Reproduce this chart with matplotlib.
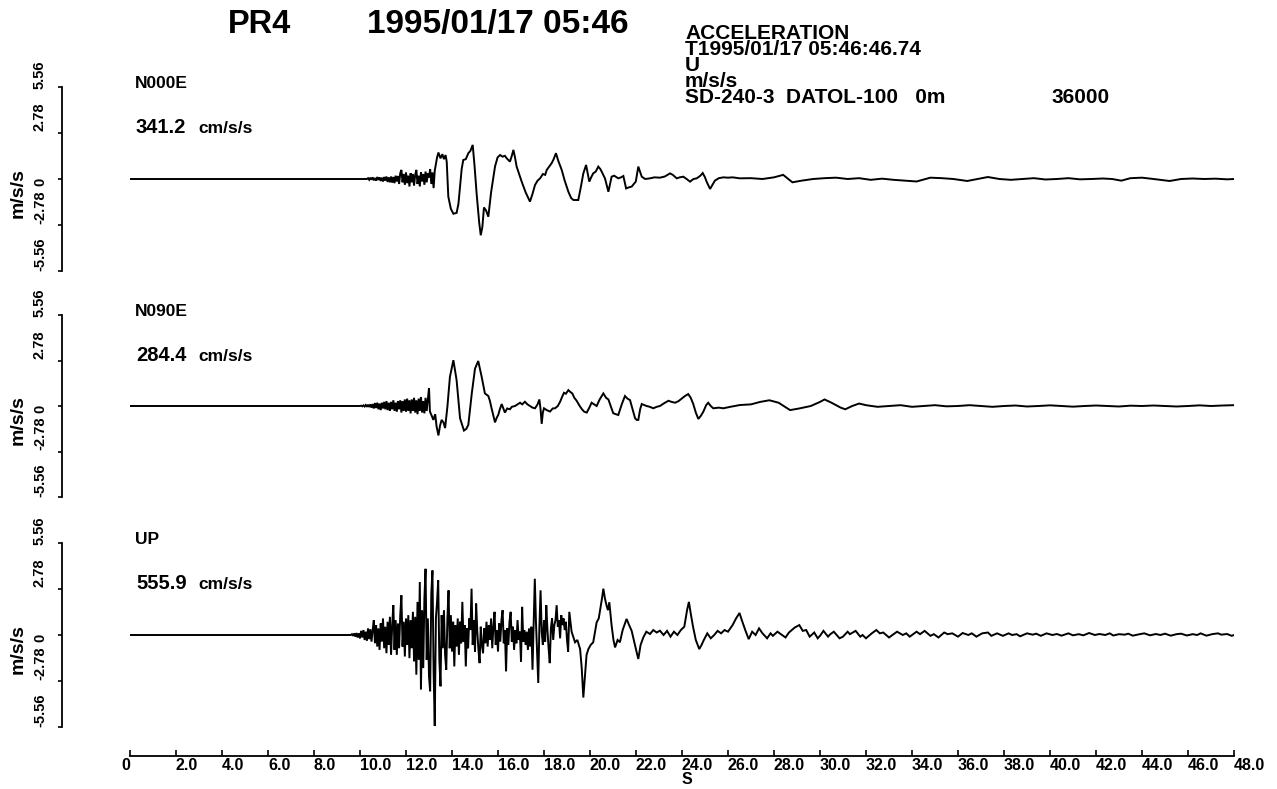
import numpy as np
import matplotlib.pyplot as plt
from matplotlib.transforms import offset_copy

W, H = 1277, 789

# ---- values ----
components = ['N000E', 'N090E', 'UP']
peak_values = ['341.2', '284.4', '555.9']
peak_unit = 'cm/s/s'
y_unit = 'm/s/s'
x_unit = 'S'
ytick_vals = [-5.56, -2.78, 0.0, 2.78, 5.56]
ytick_labels = ['-5.56', '-2.78', '0', '2.78', '5.56']
xtick_vals = [0, 2, 4, 6, 8, 10, 12, 14, 16, 18, 20, 22, 24,
              26, 28, 30, 32, 34, 36, 38, 40, 42, 44, 46, 48]
xtick_labels = ['0', '2.0', '4.0', '6.0', '8.0', '10.0', '12.0', '14.0', '16.0',
                '18.0', '20.0', '22.0', '24.0', '26.0', '28.0', '30.0', '32.0',
                '34.0', '36.0', '38.0', '40.0', '42.0', '44.0', '46.0', '48.0']
station = 'PR4'
event_time = '1995/01/17 05:46'
header_lines = ['ACCELERATION', 'T1995/01/17 05:46:46.74', 'U', 'm/s/s',
                'SD-240-3  DATOL-100   0m']
sample_count = '36000'

# N000E : quiet start, dense burst sampled every 0.05 s, then picked knots (t, a)
n000e_t0, n000e_dt = 10.3, 0.05
n000e_burst = [0.0, 0.05, -0.05, 0.08, -0.04, 0.1, -0.08, 0.06, -0.1, 0.12,
               -0.06, 0.1, -0.12, 0.08, -0.15, 0.12, -0.1, 0.15, -0.18, 0.1,
               -0.2, 0.15, -0.22, 0.12, -0.25, 0.2, -0.15, 0.18, -0.3, 0.35,
               0.55, -0.2, 0.3, -0.35, 0.4, -0.25, 0.2, -0.45, 0.35, -0.2,
               0.3, -0.4, 0.25, 0.55, -0.3, 0.2, -0.45, 0.4, -0.15, 0.3,
               -0.35, 0.45, -0.2, 0.35, 0.1, 0.6, -0.3, 0.4, -0.55, 0.5,
               0.9, 1.3]
n000e_knots = [(13.41, 1.6), (13.50, 1.25), (13.58, 1.5), (13.65, 1.2), (13.72, 1.45),
               (13.77, 1.05), (13.84, -1.07), (13.95, -1.8), (14.06, -2.1), (14.20, -2.05),
               (14.28, -1.5), (14.35, -0.46), (14.42, 0.6), (14.49, 1.15), (14.60, 1.2),
               (14.71, 1.56), (14.80, 1.7), (14.90, 2.06), (14.98, 0.8), (15.07, -0.87),
               (15.18, -2.6), (15.25, -3.4), (15.32, -2.9), (15.39, -1.72), (15.48, -1.9),
               (15.58, -2.28), (15.70, -0.8), (15.87, 0.75), (15.98, 1.3), (16.09, 1.45),
               (16.20, 1.35), (16.30, 1.4), (16.38, 1.25), (16.52, 1.05), (16.60, 1.4),
               (16.67, 1.76), (16.74, 1.3), (16.81, 0.75), (16.92, 0.3), (17.03, -0.16),
               (17.20, -0.8), (17.39, -1.37), (17.50, -0.9), (17.61, -0.36), (17.72, -0.1),
               (17.83, 0.04), (17.95, 0.3), (18.05, 0.25), (18.12, 0.55), (18.20, 0.7),
               (18.33, 0.95), (18.42, 1.2), (18.52, 1.56), (18.62, 1.1), (18.77, 0.55),
               (18.90, -0.1), (19.06, -0.77), (19.18, -1.15), (19.28, -1.27), (19.49, -1.27),
               (19.60, -0.5), (19.71, 0.34), (19.83, 0.85), (19.97, -0.16), (20.05, 0.1),
               (20.14, 0.34), (20.25, 0.45), (20.36, 0.75), (20.45, 0.6), (20.51, 0.44),
               (20.65, 0.04), (20.80, -0.77), (20.94, 0.14), (21.05, 0.2), (21.23, 0.04),
               (21.35, 0.1), (21.45, 0.18), (21.57, -0.57), (21.70, -0.5), (21.81, -0.46),
               (21.99, -0.16), (22.10, 0.75), (22.25, 0.14), (22.40, 0.0), (22.61, 0.04),
               (22.80, 0.1), (23.04, 0.08), (23.25, 0.15), (23.48, 0.34), (23.60, 0.25),
               (23.77, 0.04), (23.90, 0.1), (24.06, 0.14), (24.20, 0.0), (24.35, -0.16),
               (24.50, 0.0), (24.64, 0.04), (24.80, 0.2), (24.90, 0.36), (25.00, 0.1),
               (25.07, -0.16), (25.22, -0.6), (25.43, -0.1), (25.60, 0.05), (25.80, 0.1),
               (26.00, 0.08), (26.20, 0.1), (26.52, 0.04), (27.0, 0.05), (27.5, 0.0),
               (28.0, 0.1), (28.4, 0.25), (28.8, -0.2), (29.2, -0.1), (29.7, 0.0),
               (30.2, 0.05), (30.7, 0.08), (31.2, 0.0), (31.7, 0.05), (32.2, -0.05),
               (32.7, 0.02), (33.2, -0.05), (33.7, -0.1), (34.2, -0.15), (34.8, 0.08),
               (35.3, 0.05), (35.8, 0.0), (36.4, -0.12), (37.3, 0.12), (37.8, 0.0),
               (38.3, -0.05), (38.8, 0.0), (39.3, 0.05), (39.8, -0.03), (40.3, 0.0),
               (40.8, 0.05), (41.3, -0.02), (41.8, 0.0), (42.3, 0.03), (42.7, 0.0),
               (43.1, -0.1), (43.5, 0.05), (44.0, 0.08), (44.5, 0.0), (45.2, -0.12),
               (45.7, 0.0), (46.2, 0.03), (46.7, 0.0), (47.2, 0.02), (47.7, -0.02),
               (48.0, 0.0)]

# N090E
n090e_t0, n090e_dt = 10.0, 0.05
n090e_burst = [0.0, 0.02, -0.02, 0.04, -0.03, 0.06, -0.05, 0.08, -0.06, 0.1,
               -0.1, 0.12, -0.15, 0.18, -0.12, 0.2, -0.2, 0.15, -0.25, 0.2,
               -0.15, 0.25, -0.2, 0.3, -0.25, 0.2, -0.3, 0.25, -0.2, 0.35,
               -0.3, 0.2, -0.35, 0.3, -0.2, 0.35, -0.4, 0.3, -0.3, 0.4,
               -0.35, 0.45, -0.3, 0.35, -0.45, 0.4, -0.3, 0.5, -0.4, 0.35,
               -0.5, 0.45, -0.3, 0.55, -0.4, 0.3, -0.45, 0.5, -0.3, 0.4]
n090e_knots = [(13.0, 1.1), (13.04, -0.34), (13.12, -0.6), (13.19, -0.85), (13.27, -0.5),
               (13.33, -1.25), (13.41, -1.8), (13.48, -1.2), (13.55, -0.85), (13.63, -1.0),
               (13.70, -1.35), (13.80, -0.04), (13.91, 1.78), (14.06, 2.8), (14.20, 1.58),
               (14.35, -0.75), (14.52, -1.5), (14.62, -1.4), (14.71, -1.15), (14.86, 0.77),
               (15.00, 2.28), (15.14, 2.75), (15.29, 1.78), (15.43, 0.77), (15.58, 0.61),
               (15.65, 0.3), (15.72, -0.14), (15.80, -0.6), (15.87, -1.0), (15.95, -0.7),
               (16.01, -0.55), (16.08, -0.2), (16.16, 0.12), (16.22, -0.1), (16.30, -0.4),
               (16.40, -0.15), (16.52, -0.2), (16.60, -0.05), (16.74, 0.0), (16.85, 0.1),
               (16.96, 0.2), (17.05, 0.1), (17.17, 0.26), (17.28, 0.1), (17.39, 0.0),
               (17.50, -0.1), (17.61, -0.14), (17.72, 0.1), (17.80, 0.4), (17.85, -0.2),
               (17.90, -1.09), (17.95, -0.4), (18.00, -0.14), (18.12, -0.25), (18.26, -0.34),
               (18.38, -0.15), (18.48, -0.14), (18.60, 0.0), (18.70, 0.26), (18.80, 0.6),
               (18.87, 0.81), (18.95, 0.75), (19.06, 0.97), (19.15, 0.85), (19.23, 0.77),
               (19.32, 0.5), (19.42, 0.32), (19.53, 0.05), (19.64, -0.18), (19.75, -0.35),
               (19.86, -0.4), (19.97, -0.1), (20.07, 0.2), (20.18, 0.1), (20.29, 0.0),
               (20.42, 0.4), (20.58, 0.77), (20.70, 0.5), (20.80, 0.4), (20.90, 0.0),
               (21.01, -0.44), (21.12, -0.5), (21.23, -0.55), (21.38, 0.1), (21.52, 0.61),
               (21.63, 0.45), (21.74, 0.36), (21.85, -0.2), (21.96, -0.75), (22.03, -0.85),
               (22.10, -0.85), (22.18, -0.2), (22.25, 0.12), (22.46, 0.0), (22.60, -0.05),
               (22.75, -0.14), (22.90, -0.05), (23.04, 0.0), (23.20, 0.15), (23.41, 0.32),
               (23.55, 0.25), (23.70, 0.2), (23.85, 0.3), (23.99, 0.46), (24.12, 0.6),
               (24.27, 0.73), (24.38, 0.5), (24.49, 0.12), (24.60, -0.4), (24.71, -0.79),
               (24.82, -0.6), (24.93, -0.34), (25.05, 0.05), (25.14, 0.2), (25.25, 0.0),
               (25.36, -0.14), (25.60, -0.1), (25.80, -0.14), (26.10, -0.05), (26.52, 0.06),
               (27.0, 0.1), (27.4, 0.25), (27.8, 0.35), (28.2, 0.2), (28.7, -0.25),
               (29.1, -0.15), (29.6, 0.0), (30.0, 0.25), (30.2, 0.4), (30.5, 0.2),
               (30.9, -0.1), (31.1, -0.2), (31.4, 0.0), (31.7, 0.15), (32.0, 0.05),
               (32.5, -0.05), (33.0, 0.0), (33.5, 0.05), (34.0, -0.05), (34.5, 0.0),
               (35.0, 0.05), (35.5, -0.02), (36.0, 0.0), (36.5, 0.05), (37.0, 0.0),
               (37.5, -0.05), (38.0, 0.0), (38.5, 0.03), (39.0, -0.03), (39.5, 0.0),
               (40.0, 0.04), (40.5, 0.0), (41.0, -0.04), (41.5, 0.0), (42.0, 0.03),
               (42.5, 0.0), (43.0, -0.03), (43.5, 0.02), (44.0, 0.0), (44.5, 0.03),
               (45.0, 0.0), (45.5, -0.03), (46.0, 0.0), (46.5, 0.04), (47.0, 0.0),
               (47.5, 0.03), (48.0, 0.05)]

# UP
up_t0, up_dt = 9.6, 0.05
up_burst = [0.0, 0.05, -0.05, 0.1, -0.1, 0.12, -0.15, 0.1, -0.2, 0.25,
            -0.15, 0.3, -0.3, 0.2, -0.35, 0.4, -0.25, 0.35, -0.4, 0.3,
            0.9, -0.5, 0.6, -0.7, 0.4, -0.9, 0.7, -0.4, 1.0, -0.8,
            0.5, -1.1, 0.8, -0.6, 1.1, -1.2, 0.6, 1.8, -0.9, 0.9,
            -1.2, 0.7, -0.8, 1.2, 2.4, -0.7, 0.8, -1.3, 1.0, -0.6,
            1.2, -1.4, 0.9, -0.8, 1.4, -1.6, 1.1, -2.4, 2.0, -1.5,
            3.2, -3.3, 1.5, -2.0, 2.2, 4.0, -1.5, 1.0, -2.5, -3.4,
            2.5, 3.9, -2.2, -5.5, 1.0, 2.0, 3.3, -1.5, -3.1, 1.2,
            -0.8, 1.5, -1.2, -2.1, 1.0, 2.7, -0.8, 1.2, -1.0, 0.8,
            -1.9, 0.6, -0.7, 1.0, -1.2, 0.8, -0.5, 2.0, -0.4, 0.6,
            -1.9, 0.4, -0.8, 1.0, 0.3, 2.8, -0.6, 0.9, -1.0, 1.9,
            0.2, -0.9, -1.7, 0.5, -0.6, -1.1, 0.4, -0.5, 0.8, -0.7,
            0.6, -0.3, 1.0, -0.8, 0.5, 1.4, -0.6, 0.3, -1.0, 0.7,
            -0.4, 0.9, 1.5, -0.5, 0.3, -2.2, 0.4, -0.6, 0.8, 1.4,
            -0.4, 0.5, -0.9, 0.3, -0.5, 0.9, -0.3, 0.2, -1.6, 1.7,
            -0.4, 0.3, -0.6, 0.2, -0.9, 0.4, -0.7, 0.5, -2.1, 0.6,
            3.4, 0.8, -1.0, -2.9, 0.5, 2.7, 0.2, -0.6, 0.9, -0.4,
            1.8, 0.3, -0.8, -1.7, 0.4, 1.0, -0.3, 0.6, 0.9, 1.8,
            0.5, 0.9, -0.2, 1.2, 0.6, 1.0, 0.3, 0.8, -0.3, -1.0,
            1.4]
up_knots = [(19.20, 0.2), (19.35, -0.44), (19.45, -0.3), (19.57, -0.85), (19.64, -2.0),
            (19.71, -3.78), (19.78, -2.5), (19.85, -1.2), (19.93, -0.85), (20.03, -0.6),
            (20.14, -0.44), (20.22, 0.2), (20.29, 0.77), (20.38, 1.0), (20.45, 1.6),
            (20.52, 2.2), (20.58, 2.8), (20.65, 2.2), (20.72, 1.78), (20.78, 1.5),
            (20.84, 1.98), (20.94, 0.57), (21.02, -0.3), (21.09, -0.75), (21.20, -0.3),
            (21.30, -0.44), (21.42, 0.3), (21.52, 0.7), (21.59, 0.97), (21.70, 0.6),
            (21.81, 0.26), (21.92, -0.4), (22.03, -1.05), (22.10, -1.45), (22.20, -0.6),
            (22.32, -0.14), (22.45, 0.2), (22.61, 0.06), (22.75, 0.3), (22.90, 0.15),
            (23.04, 0.26), (23.20, 0.0), (23.35, 0.25), (23.50, -0.1), (23.65, 0.2),
            (23.80, 0.0), (23.95, 0.3), (24.10, 0.5), (24.22, 1.5), (24.30, 2.0),
            (24.38, 1.3), (24.48, 0.5), (24.60, -0.3), (24.75, -0.85), (24.85, -0.6),
            (24.95, -0.3), (25.10, 0.1), (25.25, -0.2), (25.40, 0.0), (25.55, 0.25),
            (25.70, 0.1), (25.85, 0.3), (26.00, 0.2), (26.20, 0.6), (26.35, 1.0),
            (26.50, 1.33), (26.60, 0.9), (26.75, 0.3), (26.90, -0.25), (27.05, 0.2),
            (27.20, 0.0), (27.35, 0.4), (27.50, 0.1), (27.70, -0.2), (27.85, 0.1),
            (27.95, -0.05), (28.15, 0.2), (28.30, 0.05), (28.50, -0.15), (28.65, 0.15),
            (28.90, 0.45), (29.10, 0.6), (29.25, 0.25), (29.40, 0.3), (29.55, -0.1),
            (29.75, 0.15), (29.90, -0.2), (30.00, -0.05), (30.15, 0.25), (30.35, -0.1),
            (30.45, 0.05), (30.60, 0.2), (30.85, -0.2), (31.00, -0.1), (31.20, 0.2),
            (31.30, 0.05), (31.55, 0.25), (31.75, -0.1), (31.85, 0.0), (32.00, -0.2),
            (32.25, 0.1), (32.45, 0.3), (32.60, 0.1), (32.75, 0.15), (33.00, -0.15),
            (33.20, 0.05), (33.35, 0.2), (33.60, 0.0), (33.75, 0.1), (33.90, -0.1),
            (34.20, 0.2), (34.35, 0.05), (34.55, 0.25), (34.80, -0.05), (34.95, 0.05),
            (35.15, -0.15), (35.40, 0.15), (35.55, 0.05), (35.75, 0.1), (36.00, -0.1),
            (36.20, 0.12), (36.45, 0.0), (36.60, 0.1), (36.80, -0.1), (37.05, 0.1),
            (37.30, 0.15), (37.45, -0.05), (37.70, 0.1), (37.95, -0.05), (38.20, 0.1),
            (38.35, 0.0), (38.55, 0.05), (38.70, -0.08), (39.00, 0.1), (39.25, 0.02),
            (39.40, 0.08), (39.60, -0.05), (39.85, 0.1), (40.10, 0.0), (40.30, 0.06),
            (40.50, -0.04), (40.80, 0.1), (41.00, -0.02), (41.25, 0.05), (41.45, -0.02),
            (41.70, 0.12), (41.95, 0.0), (42.15, 0.06), (42.40, 0.0), (42.60, 0.1),
            (42.75, -0.03), (43.00, 0.05), (43.25, 0.02), (43.40, 0.08), (43.60, -0.04),
            (43.90, 0.05), (44.10, 0.1), (44.35, -0.02), (44.60, 0.06), (44.80, 0.0),
            (45.00, 0.08), (45.25, -0.04), (45.50, 0.05), (45.70, 0.08), (45.95, -0.03),
            (46.20, 0.05), (46.40, 0.0), (46.55, 0.1), (46.80, -0.04), (47.05, 0.05),
            (47.30, 0.1), (47.45, 0.02), (47.70, 0.06), (47.90, -0.05), (48.00, 0.0)]


def build_trace(t0, dt, burst, knots):
    t = [0.0] + list(t0 + dt * np.arange(len(burst))) + [k[0] for k in knots]
    a = [0.0] + list(burst) + [k[1] for k in knots]
    return np.array(t), np.array(a)


traces = [build_trace(n000e_t0, n000e_dt, n000e_burst, n000e_knots),
          build_trace(n090e_t0, n090e_dt, n090e_burst, n090e_knots),
          build_trace(up_t0, up_dt, up_burst, up_knots)]

# ---- drawing ----
FONT = ['Liberation Sans', 'DejaVu Sans']
NARROW = ['Liberation Sans Narrow', 'Liberation Sans', 'DejaVu Sans']
plt.rcParams['font.family'] = FONT


def fx(px):
    return px / W


def fy(py):
    return 1 - py / H


fig = plt.figure(figsize=(W / 100, H / 100), dpi=100)

# panel top/bottom in pixels
panel_px = [(87, 271), (315, 497), (543, 727)]
ax_left, ax_right = 130, 1234

axes = []
for (top, bot), (t, a) in zip(panel_px, traces):
    ax = fig.add_axes([fx(ax_left), fy(bot), (ax_right - ax_left) / W, (bot - top) / H])
    ax.plot(t, a, color='black', lw=1.4, solid_joinstyle='miter')
    ax.set_xlim(0, 48)
    ax.set_ylim(-5.56, 5.56)
    for s in ['top', 'right', 'bottom']:
        ax.spines[s].set_visible(False)
    ax.spines['left'].set_position(('outward', 68 * 0.72))
    ax.spines['left'].set_linewidth(1.3)
    ax.set_yticks(ytick_vals)
    ax.tick_params(axis='y', direction='out', length=3, width=1.2, labelleft=False)
    ax.set_xticks([])
    ax.patch.set_visible(False)
    axes.append(ax)

# y tick labels (rotated, sitting just above each tick) and unit label
label_dy = {'-5.56': 17, '-2.78': 18, '0': -3, '2.78': 16, '5.56': 12}
for ax in axes:
    for v, lab in zip(ytick_vals, ytick_labels):
        tr = offset_copy(ax.get_yaxis_transform(), fig=fig, x=0, y=label_dy[lab], units='dots')
        ax.text((40 - ax_left) / (ax_right - ax_left), v, lab, transform=tr,
                rotation=90, ha='center', va='center', fontsize=10.5,
                fontweight='bold', family=NARROW, clip_on=False)
    tr = offset_copy(ax.get_yaxis_transform(), fig=fig, x=0, y=-14, units='dots')
    ax.text((18 - ax_left) / (ax_right - ax_left), 0, y_unit, transform=tr,
            rotation=90, ha='center', va='center', fontsize=14,
            fontweight='bold', clip_on=False)

# bottom time axis on the last panel
axb = axes[-1]
axb.spines['bottom'].set_visible(True)
axb.spines['bottom'].set_position(('outward', 29 * 0.72))
axb.spines['bottom'].set_linewidth(1.3)
axb.set_xticks(xtick_vals)
axb.set_xticklabels(xtick_labels, fontsize=11.5, fontweight='bold')
axb.tick_params(axis='x', direction='in', length=4, width=1.2, pad=1.5)
for i, lbl in enumerate(axb.get_xticklabels()):
    lbl.set_horizontalalignment('right' if i == 0 else 'left')
axb.set_xlabel(x_unit, fontsize=11.5, fontweight='bold')
axb.xaxis.set_label_coords((687 - ax_left) / (ax_right - ax_left), (727 - 772) / 184)

# component names and peak values
for (top, bot), name, pk in zip(panel_px, components, peak_values):
    fig.text(fx(135), fy(top + 1), name, fontsize=12.5, fontweight='bold', va='baseline')
    fig.text(fx(136), fy(top + 46), pk, fontsize=14.5, fontweight='bold', va='baseline')
    fig.text(fx(198), fy(top + 46), peak_unit, fontsize=12.5, fontweight='bold', va='baseline')

# title
fig.text(fx(228), fy(33), station, fontsize=23.5, fontweight='bold', va='baseline')
fig.text(fx(367), fy(33), event_time, fontsize=24, fontweight='bold', va='baseline')

# header block, tightly packed lines as in the record; the sample count shares the last line
fig.text(fx(685), fy(24), '\n'.join(header_lines), fontsize=15, fontweight='bold',
         va='top', ha='left', linespacing=0.8)
fig.text(fx(1052), fy(24), '\n' * (len(header_lines) - 1) + sample_count, fontsize=15,
         fontweight='bold', va='top', ha='left', linespacing=0.8)

fig.savefig('out.png', dpi=100)
